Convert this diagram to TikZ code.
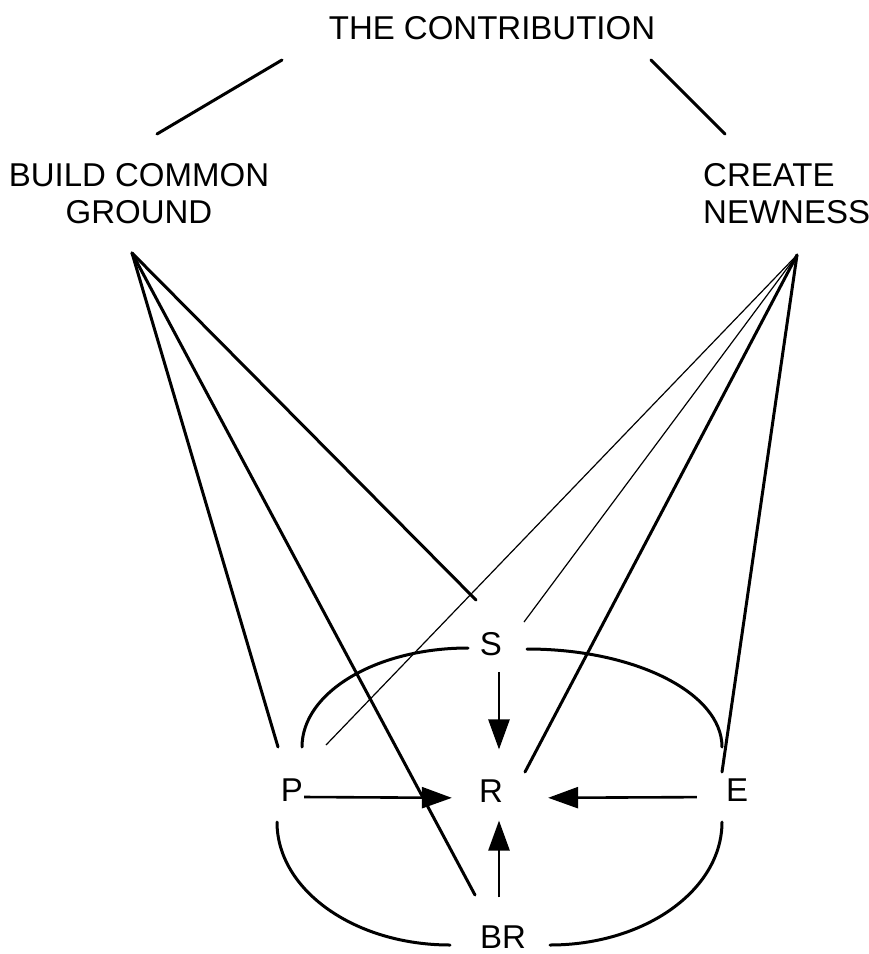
\documentclass[tikz,border=0pt]{standalone}
\usepackage{fontspec}
\setmainfont{Liberation Sans}
\usetikzlibrary{arrows.meta}

\begin{document}
\begin{tikzpicture}[x=1pt,y=-1pt,font=\fontsize{33}{37}\selectfont,
  lbl/.style={inner sep=0pt},
  link/.style={line width=3pt,line cap=round},
  hair/.style={line width=1.2pt},
  arr/.style={line width=2.6pt,-{Triangle[length=30pt,width=21pt]}}]
  \useasboundingbox (0,0) rectangle (869,954);
  % labels
  \node[lbl] (contrib) at (492,28){THE CONTRIBUTION};
  \node[lbl,align=center,anchor=north] (common) at (139,163){BUILD COMMON\\GROUND};
  \node[lbl,align=left,anchor=north west] (newness) at (703,163){CREATE\\NEWNESS};
  \node[lbl] (S) at (491,644){S};
  \node[lbl] (P) at (292,790){P};
  \node[lbl] (R) at (491,791){R};
  \node[lbl] (E) at (737,790){E};
  \node[lbl] (BR) at (503,937){BR};
  % line ends
  \coordinate (c-l) at (282,60);
  \coordinate (c-r) at (651,60);
  \coordinate (cg-top) at (157,134);
  \coordinate (cn-top) at (725,134);
  \coordinate (cg) at (132,253);
  \coordinate (cn) at (797,255);
  \coordinate (P-l) at (278,747);
  \coordinate (P-r) at (326,745);
  \coordinate (S-l) at (476,600);
  \coordinate (S-r) at (524,622);
  \coordinate (R-r) at (525,772);
  \coordinate (E-t) at (722,772);
  \coordinate (BR-l) at (475,895);
  % contribution splits in two
  \draw[link] (c-l) -- (cg-top);
  \draw[link] (c-r) -- (cn-top);
  % build common ground
  \draw[link] (cg) -- (P-l);
  \draw[link] (cg) -- (BR-l);
  \draw[link] (cg) -- (S-l);
  % create newness
  \draw[hair] (cn) -- (P-r);
  \draw[hair] (cn) -- (S-r);
  \draw[link] (cn) -- (R-r);
  \draw[link] (cn) -- (E-t);
  % loops round R
  \draw[link] (302,747) arc[start angle=180,end angle=270,x radius=166,y radius=99];
  \draw[link] (527,649) arc[start angle=270,end angle=360,x radius=195,y radius=98];
  \draw[link] (277,822) arc[start angle=180,end angle=90,x radius=173,y radius=123];
  \draw[link] (550,945) arc[start angle=90,end angle=0,x radius=172,y radius=123];
  % arrows into R
  \draw[arr,shorten <=1pt,shorten >=27pt] ([yshift=-7pt]P.east) -- ([yshift=-7pt]R.west);
  \draw[arr,shorten <=29pt,shorten >=45pt] ([yshift=-7pt]E.west) -- ([yshift=-7pt]R.east);
  \draw[arr,shorten <=16pt,shorten >=30pt] ([xshift=8pt]S.south) -- ([xshift=8pt]R.north);
  \draw[arr,shorten <=28pt,shorten >=18pt] ([xshift=-4pt]BR.north) -- ([xshift=8pt]R.south);
\end{tikzpicture}
\end{document}
